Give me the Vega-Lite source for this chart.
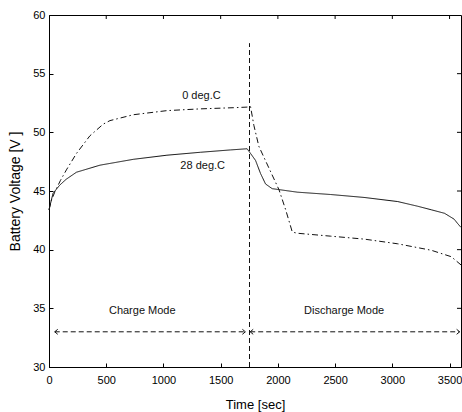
{
  "$schema": "https://vega.github.io/schema/vega-lite/v6.json",
  "width": 412,
  "height": 352,
  "autosize": "none",
  "padding": {"left": 49, "top": 15, "right": 1, "bottom": 45},
  "background": "white",
  "config": {
    "view": {"stroke": "#000", "strokeWidth": 1},
    "font": "Liberation Sans",
    "axis": {"labelFont": "Liberation Sans", "titleFont": "Liberation Sans", "labelFontSize": 11, "titleFontSize": 13, "titleFontWeight": "normal", "labelColor": "#000", "titleColor": "#000", "domainColor": "#000", "tickColor": "#000", "grid": false, "format": "d"}
  },
  "datasets": {
    "curves": [
      {"s": "28", "t": 0, "v": 43.4}, {"s": "28", "t": 35, "v": 44.8}, {"s": "28", "t": 94, "v": 45.5}, {"s": "28", "t": 150, "v": 46.0},
      {"s": "28", "t": 240, "v": 46.6}, {"s": "28", "t": 445, "v": 47.2}, {"s": "28", "t": 737, "v": 47.7}, {"s": "28", "t": 1030, "v": 48.05},
      {"s": "28", "t": 1322, "v": 48.3}, {"s": "28", "t": 1585, "v": 48.5}, {"s": "28", "t": 1731, "v": 48.6}, {"s": "28", "t": 1761, "v": 48.2},
      {"s": "28", "t": 1805, "v": 47.6}, {"s": "28", "t": 1848, "v": 46.5}, {"s": "28", "t": 1892, "v": 45.6}, {"s": "28", "t": 1950, "v": 45.2},
      {"s": "28", "t": 2170, "v": 44.9}, {"s": "28", "t": 2462, "v": 44.7}, {"s": "28", "t": 2754, "v": 44.45}, {"s": "28", "t": 3047, "v": 44.1},
      {"s": "28", "t": 3222, "v": 43.7}, {"s": "28", "t": 3340, "v": 43.4}, {"s": "28", "t": 3456, "v": 43.1}, {"s": "28", "t": 3540, "v": 42.6},
      {"s": "28", "t": 3573, "v": 42.2}, {"s": "28", "t": 3600, "v": 41.9},
      {"s": "0", "t": 0, "v": 43.4}, {"s": "0", "t": 21, "v": 44.2}, {"s": "0", "t": 50, "v": 44.9}, {"s": "0", "t": 100, "v": 45.9},
      {"s": "0", "t": 152, "v": 46.8}, {"s": "0", "t": 240, "v": 48.2}, {"s": "0", "t": 357, "v": 49.7}, {"s": "0", "t": 474, "v": 50.7},
      {"s": "0", "t": 533, "v": 51.0}, {"s": "0", "t": 737, "v": 51.5}, {"s": "0", "t": 1030, "v": 51.85}, {"s": "0", "t": 1322, "v": 52.0},
      {"s": "0", "t": 1614, "v": 52.1}, {"s": "0", "t": 1731, "v": 52.15}, {"s": "0", "t": 1761, "v": 52.2}, {"s": "0", "t": 1790, "v": 50.6},
      {"s": "0", "t": 1834, "v": 48.8}, {"s": "0", "t": 2010, "v": 45.1}, {"s": "0", "t": 2068, "v": 43.4}, {"s": "0", "t": 2126, "v": 41.5},
      {"s": "0", "t": 2170, "v": 41.4}, {"s": "0", "t": 2462, "v": 41.15}, {"s": "0", "t": 2754, "v": 40.9}, {"s": "0", "t": 3047, "v": 40.5},
      {"s": "0", "t": 3340, "v": 39.95}, {"s": "0", "t": 3515, "v": 39.4}, {"s": "0", "t": 3600, "v": 38.7}
    ],
    "vline": [{"t": 1752, "v": 30}, {"t": 1752, "v": 57.6}],
    "arrows": [
      {"seg": "charge", "t": 50, "v": 33}, {"seg": "charge", "t": 1716, "v": 33},
      {"seg": "discharge", "t": 1758, "v": 33}, {"seg": "discharge", "t": 3588, "v": 33}
    ],
    "heads": [
      {"dir": "left", "t": 50, "v": 33}, {"dir": "right", "t": 1716, "v": 33},
      {"dir": "left", "t": 1758, "v": 33}, {"dir": "right", "t": 3588, "v": 33}
    ],
    "labels": [
      {"txt": "0 deg.C", "t": 1332, "v": 53.1},
      {"txt": "28 deg.C", "t": 1343, "v": 47.1},
      {"txt": "Charge Mode", "t": 815, "v": 34.74},
      {"txt": "Discharge Mode", "t": 2579, "v": 34.74}
    ],
    "xticks": [{"t": 500}, {"t": 1000}, {"t": 1500}, {"t": 2000}, {"t": 2500}, {"t": 3000}, {"t": 3500}],
    "yticks": [{"v": 35}, {"v": 40}, {"v": 45}, {"v": 50}, {"v": 55}]
  },
  "layer": [
    {
      "data": {"name": "curves"},
      "mark": {"type": "line", "color": "#111", "strokeWidth": 1},
      "encoding": {
        "x": {"field": "t", "type": "quantitative", "scale": {"domain": [0, 3600], "nice": false}, "axis": {"orient": "bottom", "title": "Time [sec]", "values": [0, 500, 1000, 1500, 2000, 2500, 3000, 3500], "tickSize": -4, "labelPadding": 11, "titlePadding": 13, "labelFlush": false}},
        "y": {"field": "v", "type": "quantitative", "scale": {"domain": [30, 60], "nice": false, "zero": false}, "axis": {"orient": "left", "title": "Battery Voltage [V ]", "titleFontSize": 14, "values": [30, 35, 40, 45, 50, 55, 60], "tickSize": -4, "labelPadding": 8, "titlePadding": 10, "labelFlush": false}},
        "strokeDash": {"field": "s", "type": "nominal", "legend": null, "scale": {"domain": ["28", "0"], "range": [[1, 0], [6, 3, 1.5, 3]]}}
      }
    },
    {
      "data": {"name": "xticks"},
      "mark": {"type": "rule", "color": "#000", "strokeWidth": 1},
      "encoding": {
        "x": {"field": "t", "type": "quantitative"},
        "y": {"datum": 60},
        "y2": {"datum": 59.66}
      }
    },
    {
      "data": {"name": "yticks"},
      "mark": {"type": "rule", "color": "#000", "strokeWidth": 1},
      "encoding": {
        "y": {"field": "v", "type": "quantitative"},
        "x": {"datum": 3600},
        "x2": {"datum": 3565}
      }
    },
    {
      "data": {"name": "vline"},
      "mark": {"type": "line", "color": "#111", "strokeWidth": 1, "strokeDash": [5, 3]},
      "encoding": {
        "x": {"field": "t", "type": "quantitative"},
        "y": {"field": "v", "type": "quantitative"}
      }
    },
    {
      "data": {"name": "arrows"},
      "mark": {"type": "line", "color": "#111", "strokeWidth": 1, "strokeDash": [5, 3]},
      "encoding": {
        "x": {"field": "t", "type": "quantitative"},
        "y": {"field": "v", "type": "quantitative"},
        "detail": {"field": "seg"}
      }
    },
    {
      "data": {"name": "heads"},
      "mark": {"type": "point", "filled": false, "color": "#111", "strokeWidth": 1, "size": 25, "opacity": 1},
      "encoding": {
        "x": {"field": "t", "type": "quantitative"},
        "y": {"field": "v", "type": "quantitative"},
        "shape": {"field": "dir", "type": "nominal", "legend": null, "scale": {"domain": ["left", "right"], "range": ["M1.2,-1L0,0L1.2,1", "M-1.2,-1L0,0L-1.2,1"]}}
      }
    },
    {
      "data": {"name": "labels"},
      "mark": {"type": "text", "font": "Liberation Sans", "fontSize": 11, "color": "#111", "align": "center", "baseline": "middle"},
      "encoding": {
        "x": {"field": "t", "type": "quantitative"},
        "y": {"field": "v", "type": "quantitative"},
        "text": {"field": "txt"}
      }
    }
  ]
}
